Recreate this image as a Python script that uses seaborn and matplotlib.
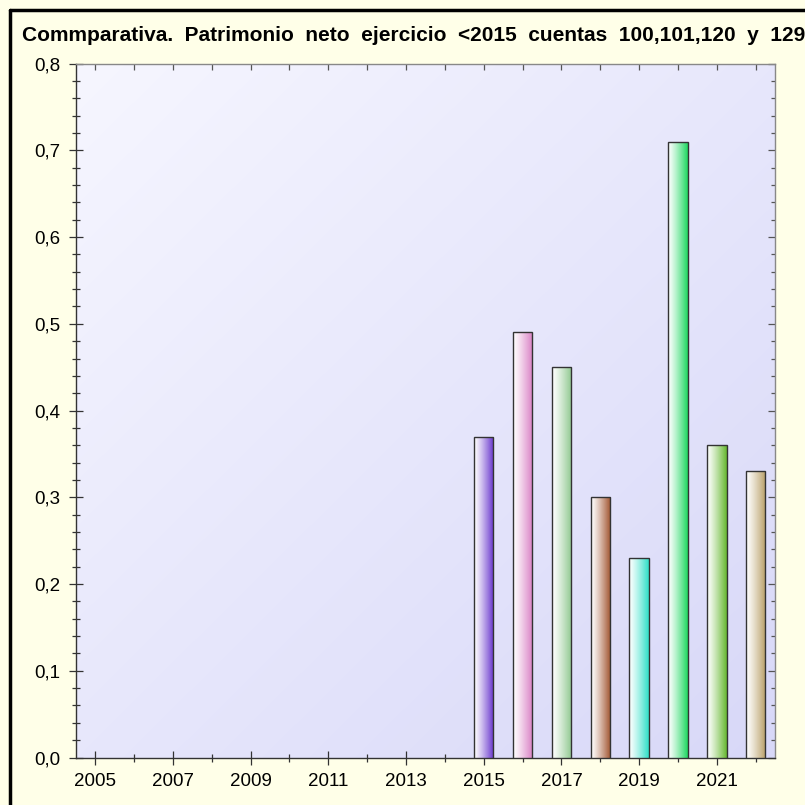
import numpy as np
import pandas as pd
import matplotlib
matplotlib.use("Agg")
import matplotlib.pyplot as plt
import matplotlib.colors as mcolors
from matplotlib.ticker import FuncFormatter, MultipleLocator
import seaborn as sns

sns.set_style("white")
plt.rcParams["font.family"] = ["Liberation Sans", "DejaVu Sans"]

# Data
years = [2015, 2016, 2017, 2018, 2019, 2020, 2021, 2022]
values = [0.37, 0.49, 0.45, 0.30, 0.23, 0.71, 0.36, 0.33]
bar_colors = ["#6633CC", "#D97FC4", "#8FC88F", "#A0522D",
              "#2FE0C8", "#1ED860", "#66B830", "#B89E66"]
xtick_major = list(range(2005, 2022, 2))
xtick_minor = list(range(2006, 2023, 2))
title_words = ["Commparativa.", "Patrimonio", "neto", "ejercicio", "<2015",
               "cuentas", "100,101,120", "y", "129"]

fig = plt.figure(figsize=(8.05, 8.05), dpi=100, facecolor="#FFFFE8")
ax = fig.add_axes([0.094, 0.059, 0.869, 0.862])

df = pd.DataFrame({"year": years, "value": values})
sns.barplot(data=df, x="year", y="value", native_scale=True, width=0.5,
            color="white", edgecolor="#333333", linewidth=1.0, ax=ax,
            zorder=3)

# background gradient of the plot area (white top-left -> lavender bottom-right)
gx, gy = np.meshgrid(np.linspace(0, 1, 200), np.linspace(1, 0, 200))
t = (gx + (1 - gy)) / 2
c0 = np.array(mcolors.to_rgb("#F6F6FF"))
c1 = np.array(mcolors.to_rgb("#D8D8F8"))
bg = c0[None, None, :] * (1 - t[..., None]) + c1[None, None, :] * t[..., None]
ax.imshow(bg, extent=[0, 1, 0, 1], transform=ax.transAxes, aspect="auto",
          zorder=0, interpolation="bilinear")

# horizontal white -> colour gradient inside each bar
for patch, col in zip(ax.patches, bar_colors):
    x0, w, h = patch.get_x(), patch.get_width(), patch.get_height()
    s = np.linspace(0, 1, 64) ** 1.2
    cw = np.array([1.0, 1.0, 1.0])
    cc = np.array(mcolors.to_rgb(col))
    grad = cw[None, :] * (1 - s[:, None]) + cc[None, :] * s[:, None]
    im = ax.imshow(grad[None, :, :], extent=[x0, x0 + w, 0, h],
                   aspect="auto", zorder=3.5, interpolation="bilinear")
    im.set_clip_path(patch)
    patch.set_zorder(4)
    patch.set_facecolor("none")

ax.set_xlim(2004.5, 2022.5)
ax.set_ylim(0, 0.8)
ax.set_xlabel("")
ax.set_ylabel("")

ax.set_xticks(xtick_major)
ax.set_xticks(xtick_minor, minor=True)
ax.set_xticklabels([str(y) for y in xtick_major])
ax.yaxis.set_major_locator(MultipleLocator(0.1))
ax.yaxis.set_minor_locator(MultipleLocator(0.02))
ax.yaxis.set_major_formatter(FuncFormatter(lambda v, p: f"{v:.1f}".replace(".", ",")))

ax.tick_params(axis="x", which="major", direction="inout", length=10, width=0.9,
               color="#333333", labelsize=13.5, pad=6, bottom=True, labelcolor="black")
ax.tick_params(axis="x", which="minor", direction="inout", length=6, width=0.9,
               color="#333333", bottom=True)
ax.tick_params(axis="y", which="major", direction="inout", length=10, width=0.9,
               color="#333333", labelsize=13.5, pad=6, left=True, labelcolor="black")
ax.tick_params(axis="y", which="minor", direction="inout", length=6, width=0.9,
               color="#333333", left=True)

# inward ticks on the top and right edges
top = ax.secondary_xaxis("top")
top.set_xticks(xtick_major)
top.set_xticks(xtick_minor, minor=True)
top.tick_params(which="both", direction="in", length=4, width=0.9,
                color="#555555", labeltop=False)
right = ax.secondary_yaxis("right")
right.yaxis.set_major_locator(MultipleLocator(0.1))
right.yaxis.set_minor_locator(MultipleLocator(0.02))
right.tick_params(which="major", direction="in", length=5, width=0.9,
                  color="#555555", labelright=False)
right.tick_params(which="minor", direction="in", length=3, width=0.9,
                  color="#555555")
for sec in (top, right):
    for sp in sec.spines.values():
        sp.set_visible(False)

for side in ["left", "bottom"]:
    ax.spines[side].set_color("#333333")
    ax.spines[side].set_linewidth(1.0)
for side in ["top", "right"]:
    ax.spines[side].set_color("#888888")
    ax.spines[side].set_linewidth(1.0)

# title with the wide word spacing of the original
fig.text(0.027, 0.956, "  ".join(title_words), fontsize=15, fontweight="bold",
         ha="left", va="center", color="black")

# thick black frame on the top and left edges
fig.add_artist(plt.Line2D([0.0125, 0.0125], [0.0, 0.988], transform=fig.transFigure,
                          color="black", linewidth=2.5))
fig.add_artist(plt.Line2D([0.0125, 1.0], [0.988, 0.988], transform=fig.transFigure,
                          color="black", linewidth=2.5))

fig.savefig("out.png", dpi=100, facecolor=fig.get_facecolor())
